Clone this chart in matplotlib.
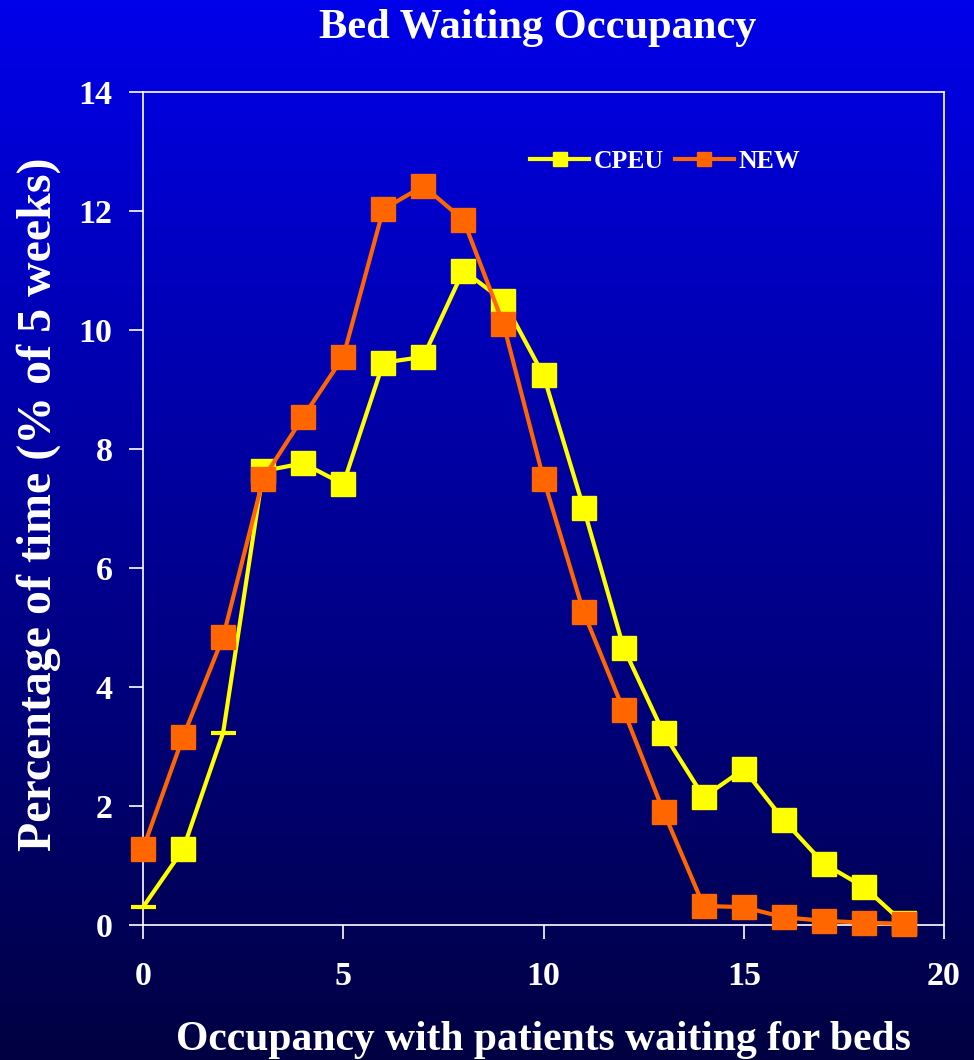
import numpy as np
import matplotlib
matplotlib.use('Agg')
import matplotlib.pyplot as plt

plt.rcParams['font.family'] = ['Liberation Serif', 'DejaVu Serif']
plt.rcParams['font.weight'] = 'bold'

# dati
occupancy = np.arange(20)
cpeu = [0.30, 1.27, 3.23, 7.63, 7.76, 7.41, 9.45, 9.55, 11.0, 10.49,
        9.24, 7.01, 4.66, 3.22, 2.15, 2.62, 1.76, 1.03, 0.64, 0.03]
new = [1.28, 3.16, 4.84, 7.50, 8.54, 9.55, 12.03, 12.42, 11.85, 10.10,
       7.50, 5.26, 3.61, 1.90, 0.32, 0.30, 0.13, 0.07, 0.04, 0.02]
# punti CPEU disegnati solo come trattino
dash_pts = [0, 2]

W, H = 974, 1060
fig = plt.figure(figsize=(W/100, H/100), dpi=100)

# sfondo sfumato blu
bg = fig.add_axes([0, 0, 1, 1], zorder=-10)
top = np.array([0, 0, 234]) / 255
bot = np.array([0, 0, 66]) / 255
t = np.linspace(0, 1, 256)[:, None]
grad = (1 - t) * top + t * bot
bg.imshow(grad[:, None, :].repeat(2, axis=1), aspect='auto', extent=[0, 1, 0, 1])
bg.axis('off')

ax = fig.add_axes([143/W, 1 - 925/H, (944-143)/W, (925-92)/H])
ax.patch.set_alpha(0)

yel = '#FFFF00'
ora = '#FF6600'
sq = [i for i in occupancy if i not in dash_pts]

ax.plot(occupancy, cpeu, color=yel, lw=3, zorder=3, clip_on=False)
ax.plot(sq, [cpeu[i] for i in sq], 's', color=yel, ms=17, zorder=3, clip_on=False)
ax.plot(dash_pts, [cpeu[i] for i in dash_pts], '_', color=yel, ms=18, mew=3,
        zorder=3, clip_on=False)
ax.plot(occupancy, new, color=ora, lw=3, marker='s', ms=17, zorder=4, clip_on=False)

# voci legenda
h1, = ax.plot([], [], color=yel, lw=3, marker='s', ms=10)
h2, = ax.plot([], [], color=ora, lw=3, marker='s', ms=10)
leg = ax.legend([h1, h2], ['CPEU', 'NEW'], loc='center', bbox_to_anchor=(0.652, 0.916),
                ncol=2, frameon=False, fontsize=18.5, handlelength=2.3,
                handletextpad=0.2, columnspacing=0.4)
for tx in leg.get_texts():
    tx.set_color('white')
    tx.set_fontweight('bold')

ax.set_xlim(0, 20)
ax.set_ylim(0, 14)
ax.set_xticks([0, 5, 10, 15, 20])
ax.set_yticks(range(0, 15, 2))
for s in ax.spines.values():
    s.set_color('white')
    s.set_linewidth(1.2)
ax.tick_params(colors='white', direction='out', length=10, width=1.2, labelsize=24.5)
ax.tick_params(axis='x', pad=16)
ax.tick_params(axis='y', pad=12)
for lab in ax.get_xticklabels() + ax.get_yticklabels():
    lab.set_fontweight('bold')

fig.text(538/W, 1 - 28/H, 'Bed Waiting Occupancy', color='white', fontsize=30.5,
         fontweight='bold', ha='center', va='center')
fig.text(543/W, 1 - 1040/H, 'Occupancy with patients waiting for beds', color='white',
         fontsize=30, fontweight='bold', ha='center', va='center')
fig.text(39/W, 1 - 504/H, 'Percentage of time (% of 5 weeks)', color='white',
         fontsize=34.5, fontweight='bold', ha='center', va='center', rotation=90)

fig.savefig('out.png', dpi=100)
